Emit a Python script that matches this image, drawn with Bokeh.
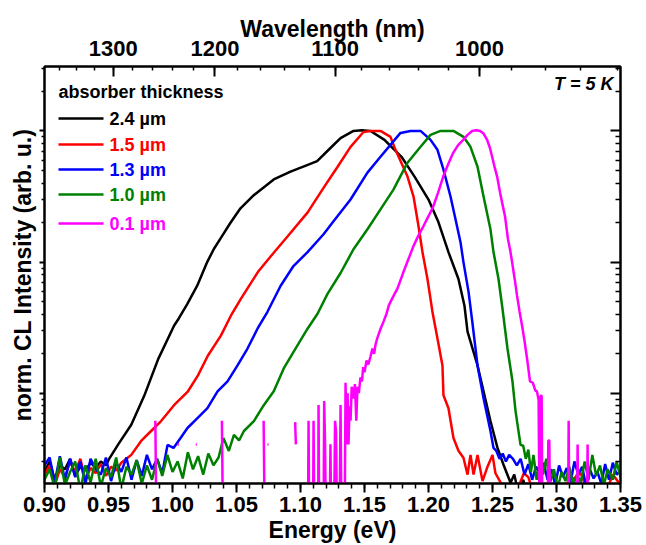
import math
import numpy as np
from bokeh.plotting import figure
from bokeh.models import (Range1d, LinearAxis, LogAxis, FixedTicker, PrintfTickFormatter,
                          CustomJSTickFormatter, Label, BoxAnnotation, Title)
from bokeh.embed import file_html
from bokeh.resources import INLINE

NAN = float("nan")
HC = 1239.84  # eV * nm

# ---------------- tick values ----------------
energy_ticks = [0.90, 0.95, 1.00, 1.05, 1.10, 1.15, 1.20, 1.25, 1.30, 1.35]
energy_minor = [round(0.90 + 0.01 * i, 2) for i in range(46)]
wavelength_ticks = [1300, 1200, 1100, 1000]
wavelength_minor = list(range(1360, 900, -20))
intensity_ticks = [0.01, 0.1, 1]
intensity_minor = [m * 10.0 ** k for k in (-3, -2, -1, 0) for m in range(2, 10)]

# ---------------- series: (energy eV, log10 of normalised CL intensity) ----------------
series_labels = ["2.4 µm", "1.5 µm", "1.3 µm", "1.0 µm", "0.1 µm"]
series_colors = ["#000000", "#FF0000", "#0000FF", "#008000", "#FF00FF"]

black_24 = [
    (0.900, -2.60), (0.904, -2.52), (0.908, -2.66), (0.912, -2.55), (0.916, -2.58), (0.920, -2.50),
    (0.924, -2.63), (0.928, -2.56), (0.932, -2.59), (0.936, -2.53), (0.940, -2.57), (0.944, -2.52),
    (0.948, -2.55), (0.9505, -2.50), (0.9576, -2.39), (0.9678, -2.24), (0.9779, -2.02), (0.9888, -1.74),
    (1.0012, -1.485), (1.0049, -1.43), (1.0115, -1.32), (1.0193, -1.18), (1.0271, -1.00), (1.0323, -0.90),
    (1.0388, -0.80), (1.0453, -0.70), (1.0531, -0.59), (1.0635, -0.49), (1.0791, -0.37), (1.0922, -0.31),
    (1.1052, -0.26), (1.1130, -0.23), (1.1234, -0.13), (1.1313, -0.055), (1.1414, 0.0), (1.1480, 0.005),
    (1.1547, 0.0), (1.1656, -0.068), (1.1789, -0.197), (1.1891, -0.348), (1.2000, -0.523), (1.2078, -0.697),
    (1.2156, -0.924), (1.2234, -1.129), (1.2281, -1.333), (1.2305, -1.53), (1.2383, -1.788), (1.2430, -1.985),
    (1.2484, -2.212), (1.2539, -2.417), (1.2586, -2.545), (1.2641, -2.682), (1.2670, -2.62), (1.2700, -2.75),
    (1.2740, -2.66), (1.2780, -2.80), (1.2820, -2.70), (1.2870, -2.78), (1.2920, -2.72), (1.2980, -2.85),
    (1.3040, -2.74), (1.3100, -2.80), (1.3160, -2.71), (1.3220, -2.82), (1.3280, -2.76), (1.3340, -2.79),
    (1.3400, -2.73), (1.3450, -2.84), (1.3500, -2.78),
]

red_15 = [
    (0.900, -2.62), (0.904, -2.55), (0.908, -2.70), (0.912, -2.58), (0.916, -2.64), (0.920, -2.52),
    (0.924, -2.60), (0.928, -2.50), (0.932, -2.66), (0.936, -2.57), (0.940, -2.61), (0.944, -2.54),
    (0.948, -2.63), (0.952, -2.56), (0.956, -2.59), (0.960, -2.53), (0.964, -2.50), (0.9678, -2.47),
    (0.9755, -2.364), (0.9833, -2.288), (0.9911, -2.212), (1.0012, -2.091), (1.0121, -1.985), (1.0199, -1.864),
    (1.0277, -1.712), (1.0378, -1.561), (1.0456, -1.409), (1.0534, -1.28), (1.0667, -1.076), (1.0768, -0.955),
    (1.0900, -0.803), (1.1056, -0.621), (1.1181, -0.432), (1.1290, -0.273), (1.1391, -0.121), (1.1492, -0.008),
    (1.1547, 0.0), (1.1625, 0.0), (1.1703, -0.045), (1.1742, -0.144), (1.1836, -0.348), (1.1883, -0.50),
    (1.1922, -0.727), (1.1953, -0.924), (1.1992, -1.129), (1.2031, -1.38), (1.2070, -1.583), (1.2109, -1.788),
    (1.2117, -2.015), (1.2156, -2.114), (1.2195, -2.341), (1.2234, -2.439), (1.2273, -2.492), (1.2305, -2.621),
    (1.2328, -2.47), (1.2352, -2.62), (1.2383, -2.47), (1.2422, -2.67), (1.2461, -2.56), (1.2500, -2.47),
    (1.2523, -2.61), (1.2563, -2.68), (1.2600, -2.75), (1.2650, -2.80), (1.2700, -2.72), (1.2745, -2.61),
    (1.2780, -2.64), (1.2820, -2.76), (1.2880, -2.80), (1.2950, -2.72), (1.3000, -2.78), (1.3060, -2.70),
    (1.3120, -2.66), (1.3190, -2.61), (1.3240, -2.74), (1.3300, -2.70), (1.3380, -2.77), (1.3440, -2.62),
    (1.3500, -2.70),
]

blue_13 = [
    (0.900, -2.55), (0.904, -2.49), (0.908, -2.68), (0.912, -2.48), (0.916, -2.66), (0.920, -2.50),
    (0.924, -2.64), (0.928, -2.52), (0.932, -2.69), (0.936, -2.50), (0.940, -2.58), (0.944, -2.62),
    (0.948, -2.49), (0.952, -2.67), (0.956, -2.53), (0.960, -2.60), (0.964, -2.49), (0.968, -2.66),
    (0.972, -2.51), (0.976, -2.63), (0.980, -2.47), (0.984, -2.58), (0.988, -2.50), (0.992, -2.61),
    (0.9961, -2.394), (1.0008, -2.417), (1.0063, -2.341), (1.0117, -2.265), (1.0195, -2.189), (1.0273, -2.114),
    (1.0352, -1.985), (1.0430, -1.909), (1.0508, -1.788), (1.0586, -1.659), (1.0664, -1.508), (1.0742, -1.379),
    (1.0844, -1.182), (1.0945, -1.03), (1.1055, -0.924), (1.1180, -0.788), (1.1258, -0.689), (1.1391, -0.523),
    (1.1523, -0.318), (1.1625, -0.197), (1.1703, -0.106), (1.1781, -0.015), (1.1859, 0.0), (1.1938, 0.0),
    (1.2016, -0.068), (1.2070, -0.144), (1.2117, -0.295), (1.2172, -0.50), (1.2211, -0.674), (1.2250, -0.848),
    (1.2273, -1.0), (1.2313, -1.227), (1.2344, -1.47), (1.2383, -1.788), (1.2430, -2.038), (1.2484, -2.288),
    (1.2508, -2.417), (1.2530, -2.44), (1.2555, -2.50), (1.2580, -2.46), (1.2605, -2.52), (1.2630, -2.47),
    (1.2660, -2.50), (1.2690, -2.55), (1.2720, -2.50), (1.2750, -2.62), (1.2780, -2.54), (1.2810, -2.66),
    (1.2840, -2.56), (1.2870, -2.61), (1.2900, -2.53), (1.2930, -2.66), (1.2960, -2.58), (1.2990, -2.70),
    (1.3020, -2.55), (1.3050, -2.64), (1.3080, -2.57), (1.3110, -2.68), (1.3140, -2.52), (1.3170, -2.62),
    (1.3200, -2.56), (1.3230, -2.70), (1.3260, -2.58), (1.3290, -2.65), (1.3320, -2.60), (1.3350, -2.69),
    (1.3380, -2.54), (1.3410, -2.66), (1.3440, -2.53), (1.3470, -2.62), (1.3500, -2.59),
]

green_10 = [
    (0.900, -2.66), (0.904, -2.58), (0.908, -2.72), (0.912, -2.49), (0.916, -2.70), (0.920, -2.60),
    (0.924, -2.52), (0.928, -2.74), (0.932, -2.55), (0.936, -2.68), (0.940, -2.50), (0.944, -2.71),
    (0.948, -2.57), (0.952, -2.64), (0.956, -2.49), (0.960, -2.73), (0.964, -2.56), (0.968, -2.62),
    (0.972, -2.51), (0.976, -2.69), (0.980, -2.55), (0.984, -2.66), (0.988, -2.50), (0.992, -2.63),
    (0.996, -2.47), (1.000, -2.60), (1.004, -2.52), (1.008, -2.65), (1.012, -2.45), (1.016, -2.58),
    (1.020, -2.48), (1.024, -2.62), (1.028, -2.46), (1.032, -2.55), (1.036, -2.49), (1.0398, -2.341),
    (1.0440, -2.44), (1.0480, -2.318), (1.0520, -2.36), (1.0558, -2.288), (1.0636, -2.212), (1.0713, -2.091),
    (1.0791, -1.985), (1.0869, -1.811), (1.0947, -1.682), (1.1055, -1.508), (1.1133, -1.394), (1.1211, -1.242),
    (1.1313, -1.083), (1.1414, -0.902), (1.1523, -0.75), (1.1625, -0.598), (1.1726, -0.447), (1.1836, -0.242),
    (1.1938, -0.121), (1.2016, -0.030), (1.2094, 0.0), (1.2195, 0.0), (1.2273, -0.045), (1.2328, -0.121),
    (1.2383, -0.273), (1.2430, -0.50), (1.2484, -0.75), (1.2508, -0.924), (1.2547, -1.129), (1.2578, -1.356),
    (1.2617, -1.659), (1.2656, -1.909), (1.2680, -2.136), (1.2719, -2.394), (1.2740, -2.40), (1.2760, -2.50),
    (1.2780, -2.43), (1.2800, -2.60), (1.2820, -2.47), (1.2845, -2.66), (1.2870, -2.55), (1.2895, -2.62),
    (1.2920, -2.50), (1.2950, -2.68), (1.2980, -2.58), (1.3010, -2.72), (1.3040, -2.60), (1.3070, -2.67),
    (1.3100, -2.56), (1.3130, -2.70), (1.3160, -2.62), (1.3190, -2.68), (1.3220, -2.52), (1.3250, -2.66),
    (1.3280, -2.47), (1.3310, -2.63), (1.3340, -2.55), (1.3370, -2.70), (1.3400, -2.58), (1.3440, -2.66),
    (1.3470, -2.52), (1.3500, -2.64),
]

magenta_01 = [
    (0.9800, NAN), (0.9866, -2.21), (0.9874, -3.0), (0.9880, NAN),
    (1.0040, -2.39), (1.0050, -2.39), (1.0056, NAN),
    (1.0182, -2.39), (1.0190, -2.39), (1.0196, NAN),
    (1.0386, -2.21), (1.0394, -3.0), (1.0400, NAN),
    (1.0712, -2.21), (1.0720, -3.0), (1.0728, NAN),
    (1.0742, -2.39), (1.0750, -2.39), (1.0756, NAN),
    (1.0958, -2.22), (1.0964, -2.39), (1.0970, NAN),
    (1.1058, -3.0), (1.1063, -2.21), (1.1068, -3.0),
    (1.1098, -3.0), (1.1102, -2.21), (1.1108, -3.0),
    (1.1138, -3.0), (1.1141, -2.09), (1.1146, -3.0),
    (1.1180, -3.0), (1.1185, -2.06), (1.1192, -2.39), (1.1198, -3.0),
    (1.1228, -3.0), (1.1234, -2.39), (1.1240, -3.0),
    (1.1262, -3.0), (1.1270, -2.21), (1.1278, -2.30), (1.1285, -3.0),
    (1.1305, -3.0), (1.1313, -2.09), (1.1320, -3.0),
    (1.1345, -3.0), (1.1352, -1.92), (1.1360, -2.39), (1.1368, -2.00), (1.1375, -2.39), (1.1383, -2.10),
    (1.1391, -2.21), (1.1400, -1.95), (1.1414, -2.04), (1.1425, -1.93), (1.1436, -2.21), (1.1445, -1.95),
    (1.1456, -2.00), (1.1468, -1.88), (1.1480, -1.91), (1.1490, -1.80), (1.1500, -1.84), (1.1516, -1.75),
    (1.1530, -1.78), (1.1547, -1.72), (1.1562, -1.66), (1.1575, -1.70), (1.1586, -1.63), (1.1600, -1.58),
    (1.1625, -1.51), (1.1650, -1.45), (1.1670, -1.40), (1.1690, -1.33), (1.1710, -1.29), (1.1726, -1.26),
    (1.1758, -1.20), (1.1804, -1.076), (1.1850, -0.96), (1.1882, -0.879), (1.1920, -0.80), (1.1960, -0.727),
    (1.2000, -0.65), (1.2037, -0.576), (1.2075, -0.47), (1.2115, -0.348), (1.2155, -0.25), (1.2193, -0.167),
    (1.2230, -0.11), (1.2271, -0.068), (1.2305, -0.03), (1.2341, 0.0), (1.2372, 0.005), (1.2403, 0.0),
    (1.2430, -0.02), (1.2458, -0.068), (1.2480, -0.13), (1.2497, -0.197), (1.2515, -0.27), (1.2536, -0.348),
    (1.2559, -0.47), (1.2578, -0.56), (1.2598, -0.652), (1.2621, -0.826), (1.2640, -0.92), (1.2653, -1.0),
    (1.2675, -1.14), (1.2692, -1.258), (1.2712, -1.38), (1.2731, -1.485), (1.2750, -1.60), (1.2770, -1.735),
    (1.2793, -1.909), (1.2815, -1.92), (1.2835, -1.98), (1.2847, -1.985), (1.2860, -2.05), (1.2868, -3.0),
    (1.2876, -2.02), (1.2884, -2.02), (1.2890, -3.0), (1.2930, -3.0), (1.2936, -2.36), (1.2944, -2.36),
    (1.2950, -3.0), (1.3090, -3.0), (1.3095, -2.21), (1.3100, -3.0), (1.3160, -3.0), (1.3165, -2.39),
    (1.3170, -3.0), (1.3238, -3.0), (1.3243, -2.39), (1.3248, -3.0), (1.3500, -3.0),
]

all_series = [black_24, red_15, blue_13, green_10, magenta_01]

# ---------------- layout constants (canvas pixels) ----------------
FRAME_L, FRAME_R, FRAME_T, FRAME_B = 44, 620, 66, 486
FONT = "Liberation Sans"

p = figure(width=646, height=545,
           x_range=Range1d(0.90, 1.35), y_range=Range1d(0.00205, 3.1),
           y_axis_type="log", output_backend="svg", toolbar_location=None,
           min_border_left=FRAME_L, min_border_right=646 - FRAME_R,
           min_border_top=FRAME_T, min_border_bottom=545 - FRAME_B)
p.grid.visible = False
p.outline_line_color = "black"
p.outline_line_width = 2
p.outline_line_alpha = 1.0
p.background_fill_color = "white"
p.border_fill_color = "white"


def style_axis(ax):
    ax.axis_line_color = "black"
    ax.axis_line_width = 2
    ax.major_tick_line_color = "black"
    ax.major_tick_line_width = 2
    ax.minor_tick_line_color = "black"
    ax.minor_tick_line_width = 1.5
    ax.major_label_text_font = FONT
    ax.major_label_text_font_style = "bold"
    ax.major_label_text_font_size = "22px"
    ax.major_label_text_color = "black"
    ax.axis_label_text_font = FONT
    ax.axis_label_text_font_style = "bold"
    ax.axis_label_text_font_size = "23px"
    ax.axis_label_text_color = "black"


blank = CustomJSTickFormatter(code="return '';")
y_ticker = FixedTicker(ticks=intensity_ticks, minor_ticks=intensity_minor)

# bottom: energy
xa = p.xaxis[0]
style_axis(xa)
xa.ticker = FixedTicker(ticks=energy_ticks, minor_ticks=energy_minor)
xa.formatter = PrintfTickFormatter(format="%.2f")
xa.axis_label = "Energy (eV)"
xa.major_tick_out, xa.major_tick_in = 9, 0
xa.minor_tick_out, xa.minor_tick_in = 5, 0
xa.major_label_standoff = 4
xa.axis_label_standoff = 2

# left: log intensity, no labels
ya = p.yaxis[0]
style_axis(ya)
ya.ticker = y_ticker
ya.formatter = blank
ya.major_tick_out, ya.major_tick_in = 5, 0
ya.minor_tick_out, ya.minor_tick_in = 3, 0
ya.major_label_standoff = 0

# right mirror axis
ra = LogAxis(ticker=y_ticker, formatter=blank)
style_axis(ra)
ra.major_tick_out, ra.major_tick_in = 0, 10
ra.minor_tick_out, ra.minor_tick_in = 0, 5
p.add_layout(ra, "right")

# top: wavelength
ta = LinearAxis(ticker=FixedTicker(ticks=[HC / w for w in wavelength_ticks],
                                   minor_ticks=[HC / w for w in wavelength_minor]),
                formatter=CustomJSTickFormatter(args=dict(hc=HC), code="return (hc / tick).toFixed(0);"),
                axis_label="Wavelength (nm)")
style_axis(ta)
ta.major_tick_out, ta.major_tick_in = 0, 10
ta.minor_tick_out, ta.minor_tick_in = 0, 4
ta.major_label_standoff = 11
ta.axis_label_standoff = -4
p.add_layout(ta, "above")

# y axis title, shifted up from the frame centre as in the original
ytitle = Title(text="norm. CL Intensity (arb. u.)", align="center", offset=20,
               text_font=FONT, text_font_style="bold", text_font_size="23px",
               text_color="black", standoff=8)
p.add_layout(ytitle, "left")

# curves
for pts, col in zip(all_series, series_colors):
    e = np.array([q[0] for q in pts])
    inten = 10.0 ** np.array([q[1] for q in pts])
    p.line(e, inten, line_color=col, line_width=2.5)


def sx(X):
    return X - FRAME_L


def sy(Y):
    return FRAME_B - Y


# legend (manual, coloured labels)
p.add_layout(Label(x=sx(58), y=sy(94), x_units="screen", y_units="screen",
                   text="absorber thickness", text_font=FONT, text_font_style="bold",
                   text_font_size="18px", text_color="black",
                   text_align="left", text_baseline="middle"))
legend_rows = [121, 147, 172, 197, 226]
for Y, lab, col in zip(legend_rows, series_labels, series_colors):
    p.add_layout(BoxAnnotation(left=sx(58), right=sx(103), top=sy(Y) + 1.2, bottom=sy(Y) - 1.2,
                               left_units="screen", right_units="screen",
                               top_units="screen", bottom_units="screen",
                               fill_color=col, fill_alpha=1.0, line_color=None))
    p.add_layout(Label(x=sx(109), y=sy(Y), x_units="screen", y_units="screen",
                       text=lab, text_font=FONT, text_font_style="bold",
                       text_font_size="18px", text_color=col,
                       text_align="left", text_baseline="middle"))

p.add_layout(Label(x=sx(613), y=sy(86), x_units="screen", y_units="screen",
                   text="T = 5 K", text_font=FONT, text_font_style="bold italic",
                   text_font_size="18px", text_color="black",
                   text_align="right", text_baseline="middle"))

open("out.html", "w").write(file_html(p, INLINE))
